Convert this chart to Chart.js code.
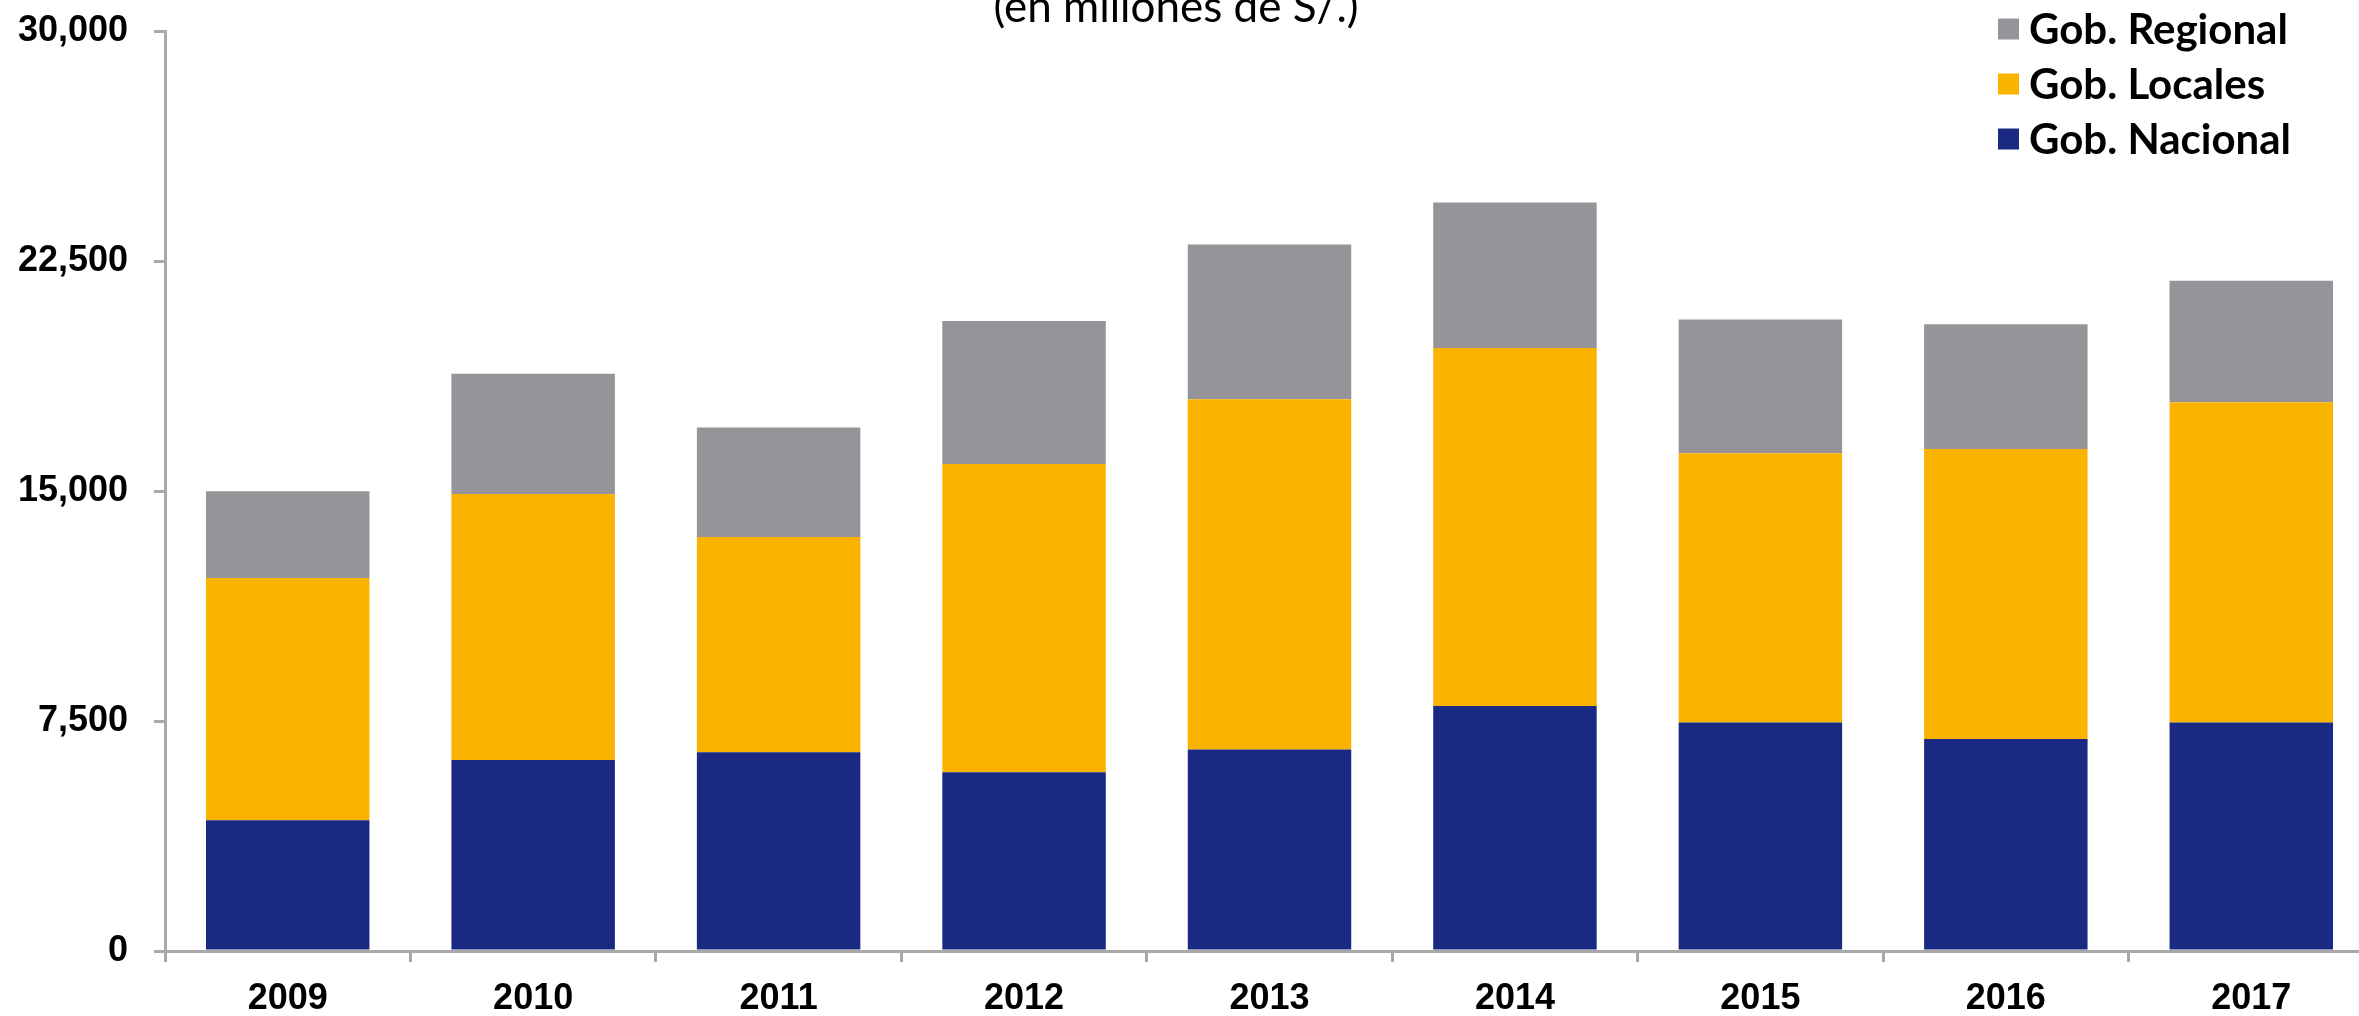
<!DOCTYPE html>
<html>
<head>
<meta charset="utf-8">
<script src="https://cdn.jsdelivr.net/npm/chart.js@4.4.0/dist/chart.umd.min.js"></script>
<style>
    html, body { margin: 0; padding: 0; background: #fff; overflow: hidden; }
    #wrap { width: 2374px; height: 1016px; }
</style>
</head>
<body>
<div id="wrap"><canvas id="myChart"></canvas></div>
<script>
// inversion publica por nivel de gobierno (millones de S/.)
const years = ['2009', '2010', '2011', '2012', '2013', '2014', '2015', '2016', '2017'];
const nacional = [4260, 6230, 6480, 5830, 6570, 7990, 7450, 6910, 7450];
const locales = [7900, 8670, 7020, 10050, 11420, 11670, 8780, 9460, 10440];
const regional = [2830, 3920, 3570, 4660, 5050, 4750, 4360, 4070, 3970];
const yTicks = [0, 7500, 15000, 22500, 30000];

const seriesNames = ['Gob. Nacional', 'Gob. Locales', 'Gob. Regional'];
const seriesColors = ['#1a2a82', '#fab400', '#959499'];

const axisColor = '#a9a9a9';
const tickFont = { family: "'Liberation Sans', Arial, sans-serif", size: 36, weight: 'bold' };

const subtitle = {
    id: 'subtitle',
    afterDraw: (chart) => {
        const { ctx } = chart;
        ctx.save();
        ctx.font = '44px Lato, sans-serif';
        ctx.fillStyle = '#000';
        ctx.textAlign = 'center';
        ctx.textBaseline = 'alphabetic';
        ctx.fillText('(en millones de S/.)', 1176, 22);
        ctx.restore();
    }
};

const legendBox = {
    id: 'legend_box',
    afterDraw: (chart) => {
        const { ctx } = chart;
        ctx.save();
        ctx.font = 'bold 42px Lato, sans-serif';
        ctx.textBaseline = 'middle';
        ctx.textAlign = 'left';
        const items = chart.data.datasets.slice().reverse();
        items.forEach((ds, i) => {
            const y = 29 + i * 55;
            ctx.fillStyle = ds.backgroundColor;
            ctx.fillRect(1998, y - 10.5, 21, 21);
            ctx.fillStyle = '#000';
            ctx.fillText(ds.label, 2029, y + 1);
        });
        ctx.restore();
    }
};

function createChart() {
    const ctx = document.getElementById('myChart').getContext('2d');
    const values = [nacional, locales, regional];

    const datasets = values.map((data, i) => ({
        label: seriesNames[i],
        data: data,
        backgroundColor: seriesColors[i],
        borderWidth: 0,
        categoryPercentage: 1,
        barPercentage: 0.666
    }));

    return new Chart(ctx, {
        type: 'bar',
        data: { labels: years, datasets },
        options: {
            responsive: true,
            maintainAspectRatio: false,
            devicePixelRatio: 1,
            animation: false,
            layout: { padding: { top: 31, left: 0, right: 0, bottom: 0 } },
            plugins: {
                legend: { display: false },
                title: { display: false },
                tooltip: { enabled: false }
            },
            scales: {
                x: {
                    stacked: true,
                    offset: true,
                    grid: {
                        offset: true,
                        drawOnChartArea: false,
                        drawTicks: true,
                        tickLength: 11,
                        color: axisColor,
                        lineWidth: 3
                    },
                    border: { display: true, color: axisColor, width: 3 },
                    ticks: { font: tickFont, color: '#000', padding: 15, maxRotation: 0 },
                    afterFit: (scale) => {
                        scale.height = 65;
                        scale.paddingLeft = 0;
                        scale.paddingRight = 0;
                    }
                },
                y: {
                    stacked: true,
                    min: 0,
                    max: 30000,
                    afterBuildTicks: (scale) => {
                        scale.ticks = yTicks.map(v => ({ value: v }));
                    },
                    grid: {
                        drawOnChartArea: false,
                        drawTicks: true,
                        tickLength: 11,
                        color: axisColor,
                        lineWidth: 3
                    },
                    border: { display: true, color: axisColor, width: 3 },
                    ticks: {
                        font: tickFont,
                        color: '#000',
                        padding: 26,
                        callback: (v) => Number(v).toLocaleString('en-US')
                    },
                    afterFit: (scale) => {
                        scale.width = 165;
                        scale.paddingTop = 0;
                        scale.paddingBottom = 0;
                    }
                }
            }
        },
        plugins: [subtitle, legendBox]
    });
}

createChart();
</script>
</body>
</html>
